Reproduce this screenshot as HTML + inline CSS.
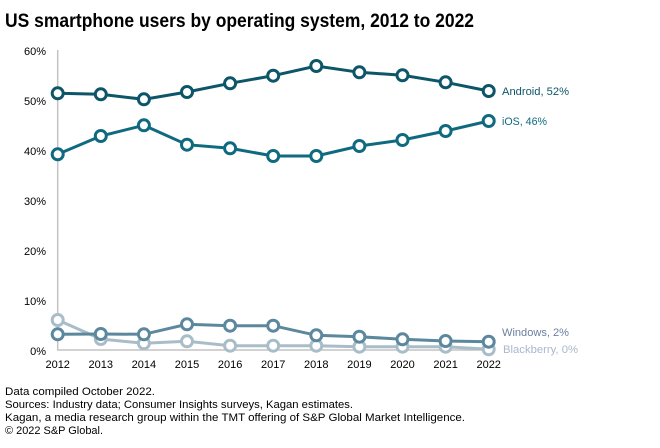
<!DOCTYPE html>
<html><head><meta charset="utf-8"><style>
html,body{margin:0;padding:0;background:#fff;}
svg{display:block;font-family:"Liberation Sans",sans-serif;}
</style></head><body>
<svg width="660" height="448" viewBox="0 0 660 448" xmlns="http://www.w3.org/2000/svg">
<text x="5" y="27" font-size="19" fill="#000" textLength="469" lengthAdjust="spacingAndGlyphs" style="font-weight:600">US smartphone users by operating system, 2012 to 2022</text>
<g font-size="11" fill="#000" text-anchor="end">
<text x="46" y="55">60%</text>
<text x="46" y="105">50%</text>
<text x="46" y="155">40%</text>
<text x="46" y="205">30%</text>
<text x="46" y="255">20%</text>
<text x="46" y="305">10%</text>
<text x="46" y="355">0%</text>
</g>
<line x1="57.7" y1="50" x2="57.7" y2="350.5" stroke="#c4c4c4" stroke-width="1.5"/>
<line x1="57" y1="350" x2="489" y2="350" stroke="#c4c4c4" stroke-width="1.5"/>
<g font-size="11" fill="#000" text-anchor="middle">
<text x="57.7" y="368">2012</text>
<text x="100.8" y="368">2013</text>
<text x="143.9" y="368">2014</text>
<text x="187" y="368">2015</text>
<text x="230.1" y="368">2016</text>
<text x="273.2" y="368">2017</text>
<text x="316.3" y="368">2018</text>
<text x="359.4" y="368">2019</text>
<text x="402.5" y="368">2020</text>
<text x="445.6" y="368">2021</text>
<text x="488.7" y="368">2022</text>
</g>
<!-- Blackberry -->
<g stroke="#a9bdc8" stroke-width="3" fill="none">
<polyline points="57.7,320 100.8,339 143.9,343.3 187,341.3 230.1,345.7 273.2,345.7 316.3,345.7 359.4,346.7 402.5,346.7 445.6,346.7 488.7,349.3"/>
<g fill="#fff">
<circle cx="57.7" cy="320" r="5.5"/><circle cx="100.8" cy="339" r="5.5"/><circle cx="143.9" cy="343.3" r="5.5"/><circle cx="187" cy="341.3" r="5.5"/><circle cx="230.1" cy="345.7" r="5.5"/><circle cx="273.2" cy="345.7" r="5.5"/><circle cx="316.3" cy="345.7" r="5.5"/><circle cx="359.4" cy="346.7" r="5.5"/><circle cx="402.5" cy="346.7" r="5.5"/><circle cx="445.6" cy="346.7" r="5.5"/><circle cx="488.7" cy="349.3" r="5.5"/>
</g></g>
<!-- Windows -->
<g stroke="#5c889e" stroke-width="3" fill="none">
<polyline points="57.7,334.3 100.8,334 143.9,334.3 187,324.3 230.1,325.7 273.2,325.7 316.3,335.3 359.4,336.7 402.5,339.3 445.6,341 488.7,341.7"/>
<g fill="#fff">
<circle cx="57.7" cy="334.3" r="5.5"/><circle cx="100.8" cy="334" r="5.5"/><circle cx="143.9" cy="334.3" r="5.5"/><circle cx="187" cy="324.3" r="5.5"/><circle cx="230.1" cy="325.7" r="5.5"/><circle cx="273.2" cy="325.7" r="5.5"/><circle cx="316.3" cy="335.3" r="5.5"/><circle cx="359.4" cy="336.7" r="5.5"/><circle cx="402.5" cy="339.3" r="5.5"/><circle cx="445.6" cy="341" r="5.5"/><circle cx="488.7" cy="341.7" r="5.5"/>
</g></g>
<!-- iOS -->
<g stroke="#0f6a80" stroke-width="3" fill="none">
<polyline points="57.7,154.3 100.8,136 143.9,125.3 187,144.7 230.1,148.3 273.2,156 316.3,156 359.4,146 402.5,140 445.6,131 488.7,121"/>
<g fill="#fff">
<circle cx="57.7" cy="154.3" r="5.5"/><circle cx="100.8" cy="136" r="5.5"/><circle cx="143.9" cy="125.3" r="5.5"/><circle cx="187" cy="144.7" r="5.5"/><circle cx="230.1" cy="148.3" r="5.5"/><circle cx="273.2" cy="156" r="5.5"/><circle cx="316.3" cy="156" r="5.5"/><circle cx="359.4" cy="146" r="5.5"/><circle cx="402.5" cy="140" r="5.5"/><circle cx="445.6" cy="131" r="5.5"/><circle cx="488.7" cy="121" r="5.5"/>
</g></g>
<!-- Android -->
<g stroke="#0d5568" stroke-width="3" fill="none">
<polyline points="57.7,93.3 100.8,94.3 143.9,99.3 187,92 230.1,83.3 273.2,75.7 316.3,66 359.4,72.3 402.5,75.3 445.6,82.3 488.7,91"/>
<g fill="#fff">
<circle cx="57.7" cy="93.3" r="5.5"/><circle cx="100.8" cy="94.3" r="5.5"/><circle cx="143.9" cy="99.3" r="5.5"/><circle cx="187" cy="92" r="5.5"/><circle cx="230.1" cy="83.3" r="5.5"/><circle cx="273.2" cy="75.7" r="5.5"/><circle cx="316.3" cy="66" r="5.5"/><circle cx="359.4" cy="72.3" r="5.5"/><circle cx="402.5" cy="75.3" r="5.5"/><circle cx="445.6" cy="82.3" r="5.5"/><circle cx="488.7" cy="91" r="5.5"/>
</g></g>
<g font-size="11">
<text x="502" y="95" fill="#0d5568" textLength="67" lengthAdjust="spacingAndGlyphs">Android, 52%</text>
<text x="502" y="125" fill="#0f6a80" textLength="45" lengthAdjust="spacingAndGlyphs">iOS, 46%</text>
<text x="502" y="336" fill="#6a7fa0" textLength="67" lengthAdjust="spacingAndGlyphs">Windows, 2%</text>
<text x="503" y="353" fill="#a9b8cc" textLength="75" lengthAdjust="spacingAndGlyphs">Blackberry, 0%</text>
</g>
<g font-size="11" fill="#000">
<text x="5" y="395" textLength="150" lengthAdjust="spacingAndGlyphs">Data compiled October 2022.</text>
<text x="5" y="408" textLength="348" lengthAdjust="spacingAndGlyphs">Sources: Industry data; Consumer Insights surveys, Kagan estimates.</text>
<text x="5" y="421" textLength="460" lengthAdjust="spacingAndGlyphs">Kagan, a media research group within the TMT offering of S&amp;P Global Market Intelligence.</text>
<text x="5" y="434" textLength="98" lengthAdjust="spacingAndGlyphs">© 2022 S&amp;P Global.</text>
</g>
</svg>
</body></html>
